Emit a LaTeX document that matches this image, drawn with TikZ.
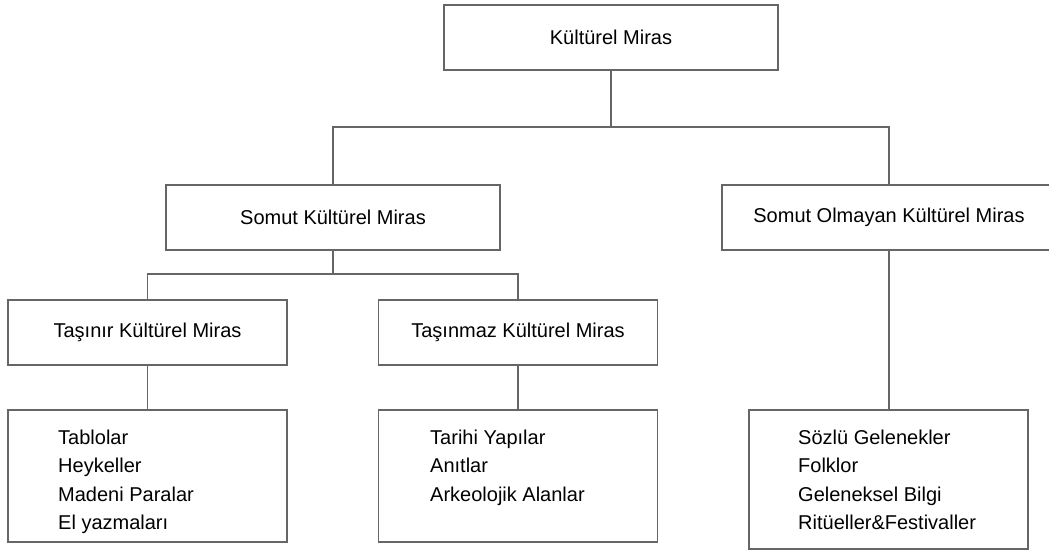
\documentclass[tikz,border=0pt]{standalone}
\usepackage{fontspec}
\setmainfont{Liberation Sans}
\usepackage{tikz}
\usetikzlibrary{positioning}
\tikzset{
	mirasbox/.style={draw=black!60, line width=1.2pt, minimum width=334pt, minimum height=65pt, inner sep=0pt, font=\fontsize{20}{24}\selectfont},
	turbox/.style={mirasbox, minimum width=279pt},
	listbox/.style={draw=black!60, line width=1.2pt, minimum width=279pt, minimum height=132pt, inner sep=0pt},
	listtext/.style={anchor=north west, inner sep=0pt, align=left, font=\fontsize{20}{28.5}\selectfont},
	bag/.style={draw=black!60, line width=1.2pt}
}

\begin{document}
\begin{tikzpicture}[x=1pt, y=-1pt]
			%%%%% START %%%%%
			\clip (0, 0) rectangle (1049, 551);
			
			\node[mirasbox] (miras) at (611, 37.5) {Kültürel Miras};
			
			\node[mirasbox] (somut) at (333, 217.5) {Somut Kültürel Miras};
			\node[mirasbox] (olmayan) at (889, 217.5) {Somut Olmayan Kültürel Miras};
			
			\node[turbox] (tasinir) at (147.5, 332.5) {Taşınır Kültürel Miras};
			\node[turbox] (tasinmaz) at (518, 332.5) {Taşınmaz Kültürel Miras};
			
			\node[listbox] (liste1) at (147.5, 476) {};
			\node[listbox] (liste2) at (518, 476) {};
			\node[listbox, minimum height=139pt] (liste3) at (888.5, 479.5) {};
			
			\node[listtext] (madde1) at (58, 429.5) {Tablolar\\Heykeller\\Madeni Paralar\\El yazmaları};
			\node[listtext] (madde2) at (430, 429.5) {Tarihi Yapılar\\Anıtlar\\Arkeolojik Alanlar};
			\node[listtext] (madde3) at (798, 429.5) {Sözlü Gelenekler\\Folklor\\Geleneksel Bilgi\\Ritüeller\&Festivaller};
			
			\coordinate (kol1) at (611, 127);
			\coordinate (kol2) at (333, 274);
			
			\draw[bag] (miras.south) -- (kol1);
			\draw[bag] (somut.north) |- (kol1) -| (olmayan.north);
			
			\draw[bag] (somut.south) -- (kol2);
			\draw[bag] (tasinir.north) |- (kol2) -| (tasinmaz.north);
			
			\draw[bag] (tasinir.south) -- (liste1.north);
			\draw[bag] (tasinmaz.south) -- (liste2.north);
			\draw[bag] (olmayan.south) -- (olmayan.south |- liste3.north);
			%%%%% END %%%%%
\end{tikzpicture}
\end{document}
